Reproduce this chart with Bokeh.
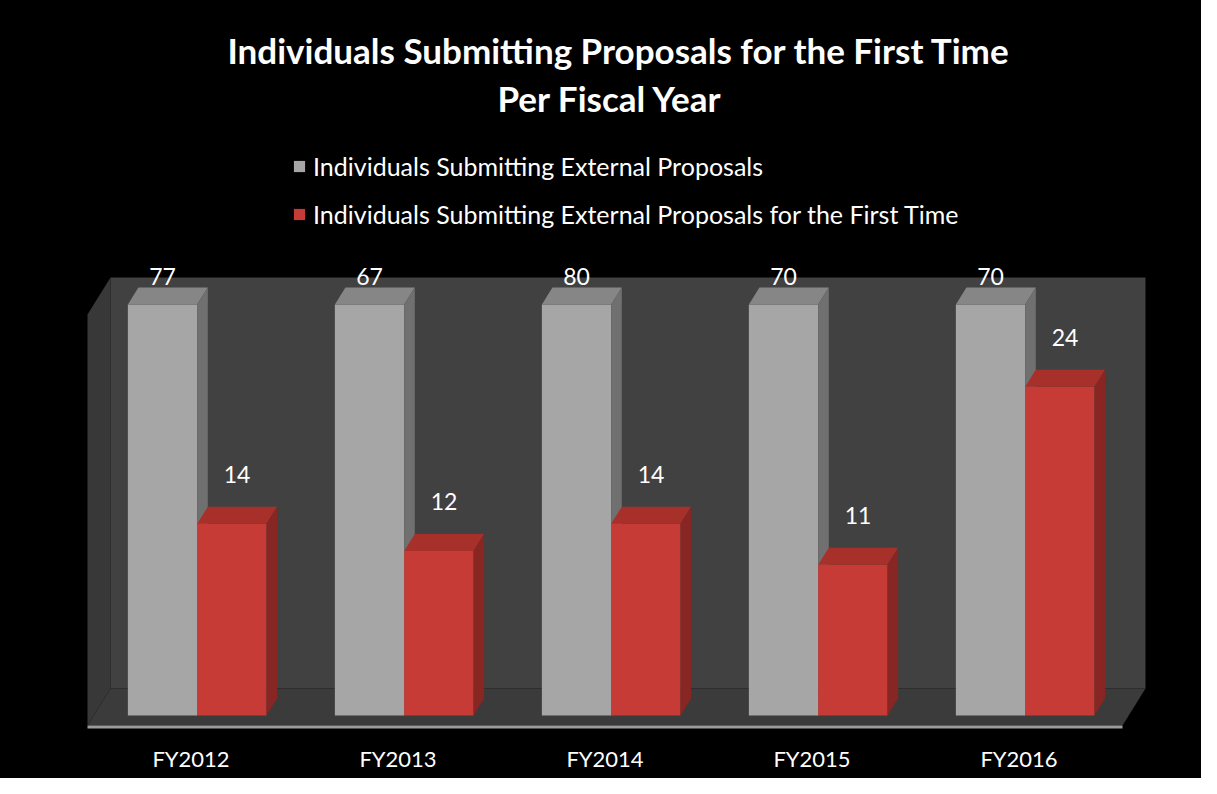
import numpy as np
from bokeh.plotting import figure
from bokeh.models import (Range1d, LinearAxis, FixedTicker, Legend, LegendItem, Title)
from bokeh.core.properties import value
from bokeh.embed import file_html
from bokeh.resources import INLINE

# ---------------- data ----------------
categories = ["FY2012", "FY2013", "FY2014", "FY2015", "FY2016"]
external = [77, 67, 80, 70, 70]
first_time = [14, 12, 14, 11, 24]
series_names = ["Individuals Submitting External Proposals",
                "Individuals Submitting External Proposals for the First Time"]
title_lines = ["Individuals Submitting Proposals for the First Time",
               "Per Fiscal Year"]
Y_MAX = 30  # value-axis maximum of the original chart (taller bars are cut here)

# ---------------- layout / style ----------------
W, H = 1201, 778
FONT = "Lato"
PX_X = 207.0      # pixels per category
PX_Y = 13.7       # pixels per value unit
X0_PX = 190.5     # canvas x of category 0
Y0_PX = 715.0     # canvas y (from top) of value 0
BORDER_TOP = 120
BORDER_BOTTOM = 43

frame_h = H - BORDER_TOP - BORDER_BOTTOM
x_start = -X0_PX / PX_X
x_end = (W - X0_PX) / PX_X
y_start = -(H - BORDER_BOTTOM - Y0_PX) / PX_Y
y_end = y_start + frame_h / PX_Y

# oblique 3-D projection
DX = 23.0 / PX_X
DY = 37.0 / PX_Y
D_FRONT, D_BACK = 0.27, 0.73
BW = 0.335

GREY = dict(front="#a6a6a6", top="#868686", side="#707070")
RED = dict(front="#c63b35", top="#a8302a", side="#872622")

p = figure(width=W, height=H, output_backend="svg", toolbar_location=None,
           x_axis_type=None, y_axis_type=None,
           x_range=Range1d(x_start, x_end), y_range=Range1d(y_start, y_end),
           min_border_left=0, min_border_right=0,
           min_border_top=BORDER_TOP, min_border_bottom=BORDER_BOTTOM)
p.background_fill_color = "black"
p.border_fill_color = "black"
p.outline_line_color = None
p.grid.visible = False
p.styles = {"background-color": "black"}

n = len(categories)
idx = np.arange(n, dtype=float)


def proj(x3, y3, d):
    return x3 + d * DX, y3 + (d - D_FRONT) * DY


# floor
fx, fy = zip(*[proj(-0.5, 0, 0), proj(n - 0.5, 0, 0), proj(n - 0.5, 0, 1), proj(-0.5, 0, 1)])
p.patch(list(fx), list(fy), fill_color="#3b3b3b", line_color=None)
# floor front edge
ex0, ey0 = proj(-0.5, 0, 0)
ex1, ey1 = proj(n - 0.5, 0, 0)
p.quad(left=[ex0], right=[ex1], top=[ey0], bottom=[ey0 - 3.0 / PX_Y],
       fill_color="#9c9c9c", line_color=None)
# left wall
lx, ly = zip(*[proj(-0.5, 0, 0), proj(-0.5, 0, 1), proj(-0.5, Y_MAX, 1), proj(-0.5, Y_MAX, 0)])
p.patch(list(lx), list(ly), fill_color="#383838", line_color=None)
# back wall
bx0, by0 = proj(-0.5, 0, 1)
bx1, by1 = proj(n - 0.5, Y_MAX, 1)
p.quad(left=[bx0], right=[bx1], bottom=[by0], top=[by1], fill_color="#414141", line_color=None)


def draw_series(vals, offset, colors):
    tops = np.minimum(np.array(vals, dtype=float), Y_MAX)
    shift = D_FRONT * DX
    x0 = idx + offset + shift
    x1 = x0 + BW
    ddx = (D_BACK - D_FRONT) * DX
    ddy = (D_BACK - D_FRONT) * DY
    front = p.quad(left=x0, right=x1, bottom=np.zeros(n), top=tops,
                   fill_color=colors["front"], line_color=None)
    p.patches(xs=[[a, b, b + ddx, a + ddx] for a, b in zip(x0, x1)],
              ys=[[t, t, t + ddy, t + ddy] for t in tops],
              fill_color=colors["top"], line_color=None)
    p.patches(xs=[[b, b + ddx, b + ddx, b] for b in x1],
              ys=[[0, ddy, t + ddy, t] for t in tops],
              fill_color=colors["side"], line_color=None)
    return front, x0, x1, tops, ddy


g_front, gx0, gx1, gtops, ddy = draw_series(external, -BW, GREY)
r_front, rx0, rx1, rtops, _ = draw_series(first_time, 0.0, RED)

# value labels
p.text(x=(gx0 + gx1) / 2, y=gtops + ddy + 0.8, text=[str(v) for v in external],
       text_font=value(FONT), text_font_size="23px", text_color="white",
       text_align="center", text_baseline="alphabetic")
p.text(x=(rx0 + rx1) / 2 + 0.025, y=rtops + 3.6, text=[str(v) for v in first_time],
       text_font=value(FONT), text_font_size="23px", text_color="white",
       text_align="center", text_baseline="alphabetic")

# category axis
xaxis = LinearAxis(ticker=FixedTicker(ticks=list(range(n))),
                   major_label_overrides={i: c for i, c in enumerate(categories)})
xaxis.axis_line_color = None
xaxis.major_tick_line_color = None
xaxis.minor_tick_line_color = None
xaxis.major_label_text_color = "white"
xaxis.major_label_text_font = FONT
xaxis.major_label_text_font_size = "22px"
xaxis.major_label_standoff = 3
p.add_layout(xaxis, "below")

# titles (the added title sits nearest the frame; p.title stacks above it)
p.title.text = title_lines[0]
p.title.text_font = FONT
p.title.text_font_style = "bold"
p.title.text_font_size = "35px"
p.title.text_color = "white"
p.title.align = "left"
p.title.offset = 227
p.title.standoff = 3
t2 = Title(text=title_lines[1], text_font=FONT, text_font_style="bold",
           text_font_size="35px", text_color="white", align="left",
           offset=497, standoff=4)
p.add_layout(t2, "above")

# legend
legend = Legend(items=[LegendItem(label=series_names[0], renderers=[g_front]),
                       LegendItem(label=series_names[1], renderers=[r_front])],
                location=(292, 506), orientation="vertical",
                glyph_width=14, glyph_height=14, label_standoff=7,
                spacing=18, padding=0, margin=0,
                background_fill_alpha=0, border_line_color=None,
                label_text_color="white", label_text_font=FONT,
                label_text_font_size="25px", label_text_baseline="middle")
p.add_layout(legend)

open("out.html", "w").write(file_html(p, INLINE))
